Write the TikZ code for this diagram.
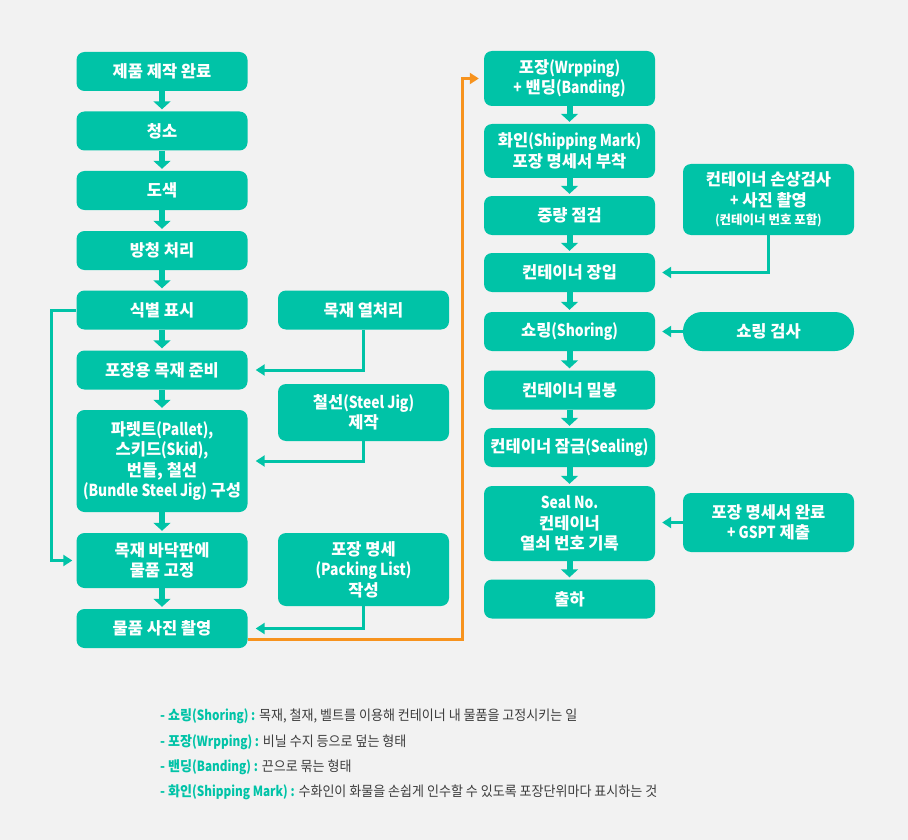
\documentclass[tikz,border=0pt]{standalone}
\usepackage{fontspec}
\setmainfont{Noto Sans CJK KR}
\newfontfamily\notefont[FakeStretch=0.93]{Noto Sans CJK KR}
\newfontfamily\enfont[FakeStretch=0.84]{Noto Sans CJK KR}
\newcommand\en[1]{{\enfont #1}}
\usetikzlibrary{arrows.meta}
\definecolor{mint}{HTML}{00C3A7}
\definecolor{pageGray}{HTML}{F2F2F2}
\definecolor{shipOrange}{HTML}{F7931E}
\definecolor{noteGray}{HTML}{3D3D3D}

\begin{document}
\begin{tikzpicture}[x=1pt, y=-1pt,
    box/.style={fill=mint, rounded corners=8pt, text=white, align=center, inner sep=0pt,
        minimum width=171pt, minimum height=39pt, font=\bfseries\fontsize{16.5}{20.5}\selectfont},
    pill/.style={box, rounded corners=19pt},
    flow/.style={mint, line width=6pt, -{Triangle[width=17pt,length=8pt]}, shorten >=2pt},
    feed/.style={mint, line width=3pt, -{Triangle[width=11pt,length=9pt]}, shorten >=8pt},
    ship/.style={shipOrange, line width=3pt, -{Triangle[width=11pt,length=9pt]}, shorten >=5pt},
    note/.style={anchor=west, inner sep=0pt, text=noteGray, font=\notefont\fontsize{14}{16}\selectfont}]

    % Page (908 x 840)
    \path[use as bounding box, fill=pageGray] (0,0) rectangle (908,840);

    % Left column
    \node[box] (made) at (162,71.5) {제품 제작 완료};
    \node[box] (clean) at (162,131) {청소};
    \node[box] (paint) at (162,190.5) {도색};
    \node[box] (rust) at (162,250.5) {방청 처리};
    \node[box] (mark) at (162,310) {식별 표시};
    \node[box] (wood) at (162,370) {포장용 목재 준비};
    \node[box, minimum height=102pt] (pallet) at (162,461) {파렛트\en{(Pallet),}\\스키드\en{(Skid),}\\번들, 철선\\\en{(Bundle Steel Jig)} 구성};
    \node[box, minimum height=55pt] (fix) at (162,560.5) {목재 바닥판에\\물품 고정};
    \node[box] (photo) at (162,628.5) {물품 사진 촬영};

    % Side jobs (left)
    \node[box] (heat) at (363.5,310) {목재 열처리};
    \node[box, minimum height=57pt] (jig) at (363.5,412.5) {철선\en{(Steel Jig)}\\제작};
    \node[box, minimum height=73pt] (list) at (363.5,569.5) {포장 명세\\\en{(Packing List)}\\작성};

    % Right column
    \node[box, minimum height=55pt] (wrap) at (569.5,78.5) {포장\en{(Wrpping)}\\\en{+} 밴딩\en{(Banding)}};
    \node[box, minimum height=54pt] (smark) at (569.5,151) {화인\en{(Shipping Mark)}\\포장 명세서 부착};
    \node[box] (weigh) at (569.5,215.5) {중량 점검};
    \node[box] (load) at (569.5,272.5) {컨테이너 장입};
    \node[box] (shore) at (569.5,331.5) {쇼링\en{(Shoring)}};
    \node[box] (seal) at (569.5,390) {컨테이너 밀봉};
    \node[box] (lock) at (569.5,447.5) {컨테이너 잠금\en{(Sealing)}};
    \node[box, minimum height=75pt] (sealno) at (569.5,523.5) {\en{Seal No.}\\컨테이너\\열쇠 번호 기록};
    \node[box] (out) at (569.5,599) {출하};

    % Side jobs (right)
    \node[box, minimum height=71pt] (check) at (768.5,199.5) {컨테이너 손상검사\\\en{+} 사진 촬영\\[-2pt]{\fontsize{12.5}{15}\selectfont\en{(}컨테이너 번호 포함\en{)}}};
    \node[pill] (shorecheck) at (768.5,331.5) {쇼링 검사};
    \node[box, minimum height=59pt] (docs) at (768.5,522.5) {포장 명세서 완료\\\en{+ GSPT} 제출};

    % Main flow
    \foreach \a/\b in {made/clean, clean/paint, paint/rust, rust/mark, mark/wood, wood/pallet,
        pallet/fix, fix/photo, wrap/smark, smark/weigh, weigh/load, load/shore, shore/seal,
        seal/lock, lock/sealno, sealno/out}
        \draw[flow] (\a) -- (\b);

    % Feeds from the side
    \draw[feed, shorten >=4pt] (mark.west) -- ++(-25,0) |- (fix.west);
    \draw[feed] (heat) |- (wood);
    \draw[feed] (jig) |- (pallet);
    \draw[feed] (list) |- (photo);
    \draw[feed, shorten >=7pt] (check) |- (load);
    \draw[feed, shorten >=7pt] (shorecheck.west) -- (shore.east);
    \draw[feed, shorten >=7pt] (docs.west) -- (docs.west -| sealno.east);

    % To the second column
    \draw[ship] ([yshift=-11pt]photo.east) -- ++(215,0) |- (wrap);

    % Notes
    \node[note] (n1) at (160,716) {{\bfseries\color{mint}- 쇼링\en{(Shoring) :}} 목재, 철재, 벨트를 이용해 컨테이너 내 물품을 고정시키는 일};
    \node[note] (n2) at (160,742) {{\bfseries\color{mint}- 포장\en{(Wrpping) :}} 비닐 수지 등으로 덮는 형태};
    \node[note] (n3) at (160,767) {{\bfseries\color{mint}- 밴딩\en{(Banding) :}} 끈으로 묶는 형태};
    \node[note] (n4) at (160,792) {{\bfseries\color{mint}- 화인\en{(Shipping Mark) :}} 수화인이 화물을 손쉽게 인수할 수 있도록 포장단위마다 표시하는 것};
\end{tikzpicture}
\end{document}
